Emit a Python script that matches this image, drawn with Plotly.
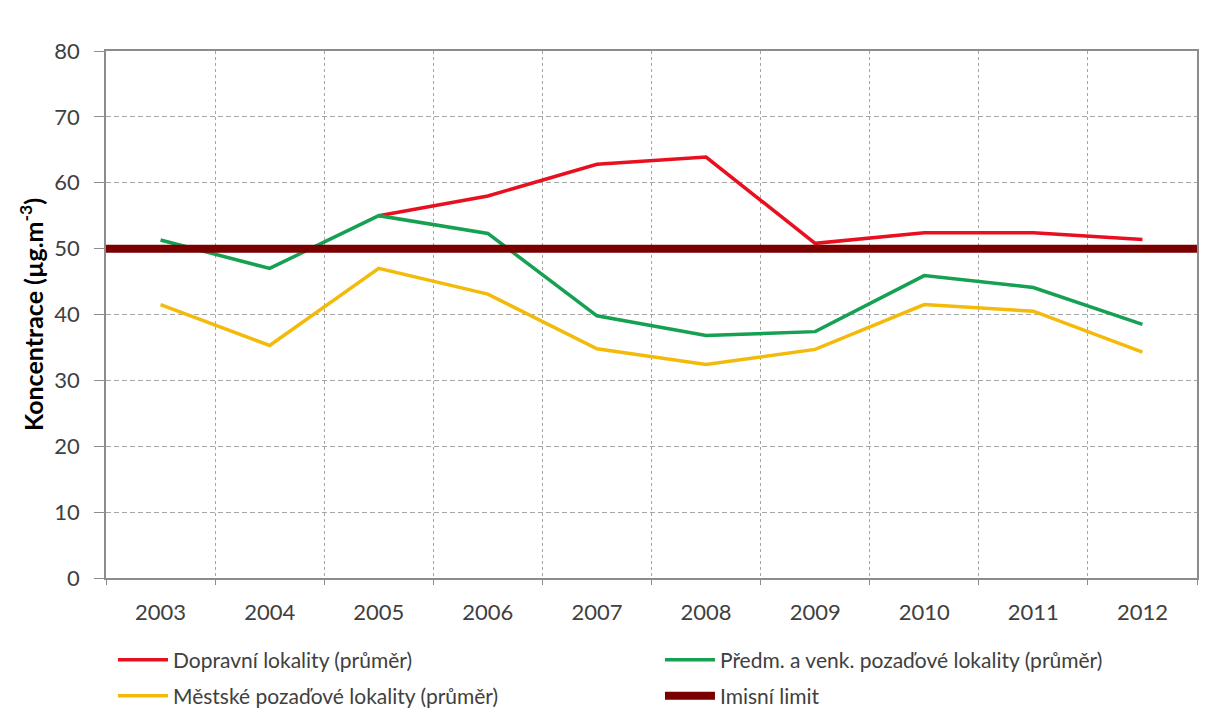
import plotly.graph_objects as go

years = ["2003", "2004", "2005", "2006", "2007", "2008", "2009", "2010", "2011", "2012"]
doprava = [None, None, 55.0, 58.0, 62.8, 63.9, 50.8, 52.4, 52.4, 51.4]
predm = [51.3, 47.0, 55.0, 52.3, 39.8, 36.8, 37.4, 45.9, 44.1, 38.5]
mestske = [41.5, 35.3, 47.0, 43.1, 34.8, 32.4, 34.7, 41.5, 40.5, 34.3]
limit_value = 50
limit_span = [0, 1]

names = [
    "Dopravní lokality (průměr)",
    "Předm. a venk. pozaďové lokality (průměr)",
    "Městské pozaďové lokality (průměr)",
    "Imisní limit",
]
colors = ["#E8101E", "#15A052", "#F4BA0A", "#7A0000"]

FONT = "Lato"
TXT = "#404040"

fig = go.Figure()
fig.add_trace(go.Scatter(x=years, y=doprava, mode="lines", name=names[0], legend="legend",
                         line=dict(color=colors[0], width=3.5)))
fig.add_trace(go.Scatter(x=years, y=predm, mode="lines", name=names[1], legend="legend",
                         line=dict(color=colors[1], width=3.5)))
fig.add_trace(go.Scatter(x=years, y=mestske, mode="lines", name=names[2], legend="legend2",
                         line=dict(color=colors[2], width=3.5)))
fig.add_trace(go.Scatter(x=limit_span, y=[limit_value] * len(limit_span), mode="lines",
                         name=names[3], xaxis="x2", legend="legend2",
                         line=dict(color=colors[3], width=8)))

leg_common = dict(orientation="h", x=0.0064, xanchor="left", yanchor="middle",
                  entrywidth=482, entrywidthmode="pixels", traceorder="normal",
                  font=dict(family=FONT, size=21, color=TXT), itemwidth=50,
                  bgcolor="rgba(0,0,0,0)")

fig.update_layout(
    width=1211, height=720,
    margin=dict(l=98, r=22, t=43, b=150, autoexpand=False),
    paper_bgcolor="white", plot_bgcolor="white",
    font=dict(family=FONT, size=21, color=TXT),
    showlegend=True,
    legend=dict(leg_common, y=-0.1556),
    legend2=dict(leg_common, y=-0.2239),
    xaxis=dict(
        type="category", range=[-0.5, 9.5], tickson="boundaries",
        showgrid=True, gridcolor="#A6A6A6", griddash="3px,3px", gridwidth=1,
        showline=True, linecolor="#8C8C8C", linewidth=1.5, mirror=True,
        ticks="outside", ticklen=5, tickcolor="#8C8C8C",
        ticklabelstandoff=14, automargin=False,
        tickfont=dict(family=FONT, size=22, color=TXT),
    ),
    xaxis2=dict(overlaying="x", range=[0, 1], visible=False, showgrid=False),
    yaxis=dict(
        range=[0, 80], dtick=10, tick0=0,
        showgrid=True, gridcolor="#A6A6A6", griddash="5px,3px", gridwidth=1,
        showline=True, linecolor="#8C8C8C", linewidth=1.5, mirror=True,
        ticks="outside", ticklen=10, tickcolor="#8C8C8C",
        ticklabelstandoff=10, automargin=False,
        tickfont=dict(family=FONT, size=22, color=TXT),
        zeroline=False,
        title=dict(text="<b>Koncentrace (µg.m<sup>-3</sup>)</b>",
                   font=dict(family=FONT, size=25, color="#000000"), standoff=4),
    ),
)

fig.write_html("out.html")
